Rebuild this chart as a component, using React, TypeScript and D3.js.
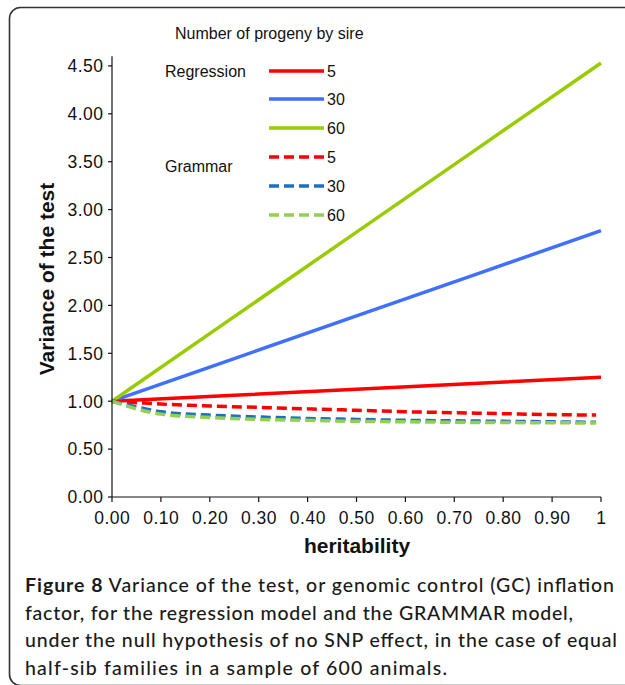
import * as d3 from "d3";

// heritability grid
const hReg = [0, 0.5, 1];
const hGrammar = [0, 0.05, 0.1, 0.2, 0.3, 0.4, 0.5, 0.6, 0.7, 0.8, 0.9, 0.99];

// Regression model, progeny 5 / 30 / 60
const reg5 = [1.0, 1.125, 1.25];
const reg30 = [1.0, 1.89, 2.78];
const reg60 = [1.0, 2.765, 4.53];

// GRAMMAR model, progeny 5 / 30 / 60
const gram5 = [1.0, 0.985, 0.97, 0.95, 0.935, 0.92, 0.905, 0.89, 0.88, 0.87, 0.86, 0.855];
const gram30 = [1.0, 0.94, 0.89, 0.855, 0.835, 0.82, 0.81, 0.8, 0.795, 0.79, 0.785, 0.78];
const gram60 = [1.0, 0.92, 0.865, 0.83, 0.81, 0.8, 0.79, 0.785, 0.78, 0.777, 0.775, 0.772];

const xTicks = [0, 0.1, 0.2, 0.3, 0.4, 0.5, 0.6, 0.7, 0.8, 0.9, 1];
const xTickLabels = ["0.00", "0.10", "0.20", "0.30", "0.40", "0.50", "0.60", "0.70", "0.80", "0.90", "1"];
const yTicks = [0, 0.5, 1, 1.5, 2, 2.5, 3, 3.5, 4, 4.5];

const captionLines = [
  "Variance of the test, or genomic control (GC) inflation",
  "factor, for the regression model and the GRAMMAR model,",
  "under the null hypothesis of no SNP effect, in the case of equal",
  "half-sib families in a sample of 600 animals.",
];

const series = [
  { name: "5", h: hReg, v: reg5, color: "#ff0000", dash: null },
  { name: "30", h: hReg, v: reg30, color: "#4070ff", dash: null },
  { name: "60", h: hReg, v: reg60, color: "#99cc00", dash: null },
  { name: "5", h: hGrammar, v: gram5, color: "#ff0000", dash: "10,5" },
  { name: "30", h: hGrammar, v: gram30, color: "#1f6fc0", dash: "10,5" },
  { name: "60", h: hGrammar, v: gram60, color: "#92d050", dash: "10,5" },
];

const font = "'Liberation Sans', Arial, sans-serif";

export default function App() {
  const width = 625;
  const height = 685;
  const left = 112;
  const right = 601;
  const bottom = 497;

  const x = d3.scaleLinear([0, 1], [left, right]);
  const y = d3.scaleLinear([0, 4.6], [bottom, bottom - 4.6 * 95.8]);

  const pathFor = (s) =>
    d3
      .line<number>()
      .x((_, i) => x(s.h[i]))
      .y((d) => y(d))
      .curve(d3.curveMonotoneX)(s.v);

  const legendY = [71, 99, 128, 157, 186, 215];

  return (
    <svg
      width={width}
      height={height}
      style={{ position: "absolute", left: 0, top: 0, background: "#fff" }}
    >
      <rect x={9.5} y={7.5} width={660} height={678} rx={11} fill="white" stroke="#333" strokeWidth={1.6} />

      {/* legend */}
      <g fontFamily={font} fontSize={16} fill="#111">
        <text x={175} y={39}>Number of progeny by sire</text>
        <text x={165} y={77}>Regression</text>
        <text x={165} y={172}>Grammar</text>
        {series.map((s, i) => (
          <g key={i}>
            <line
              x1={269}
              x2={324}
              y1={legendY[i]}
              y2={legendY[i]}
              stroke={s.color}
              strokeWidth={3.5}
              strokeDasharray={s.dash ?? undefined}
            />
            <text x={327} y={legendY[i] + 6}>{s.name}</text>
          </g>
        ))}
      </g>

      {/* data lines */}
      {series.map((s, i) => (
        <path
          key={i}
          d={pathFor(s)}
          fill="none"
          stroke={s.color}
          strokeWidth={3.5}
          strokeDasharray={s.dash ?? undefined}
        />
      ))}

      {/* axes */}
      <g stroke="#111" strokeWidth={1.2}>
        <line x1={left} x2={left} y1={y(4.6)} y2={bottom} />
        <line x1={left} x2={right} y1={bottom} y2={bottom} />
        {yTicks.map((t) => (
          <line key={t} x1={left - 4} x2={left} y1={y(t)} y2={y(t)} />
        ))}
        {xTicks.map((t) => (
          <line key={t} x1={x(t)} x2={x(t)} y1={bottom} y2={bottom + 5} />
        ))}
      </g>
      <g fontFamily={font} fontSize={17.5} fill="#111" letterSpacing={0.5}>
        {yTicks.map((t) => (
          <text key={t} x={left - 8.5} y={y(t)} dy="0.36em" textAnchor="end">
            {t.toFixed(2)}
          </text>
        ))}
        {xTicks.map((t, i) => (
          <text key={t} x={x(t) + 0.3} y={524} textAnchor="middle">
            {xTickLabels[i]}
          </text>
        ))}
      </g>

      <text
        x={357}
        y={553}
        textAnchor="middle"
        fontFamily={font}
        fontWeight="bold"
        fontSize={21}
        fill="#111"
      >
        heritability
      </text>
      <text
        transform="translate(54,279) rotate(-90)"
        textAnchor="middle"
        fontFamily={font}
        fontWeight="bold"
        fontSize={21}
        fill="#111"
      >
        Variance of the test
      </text>

      {/* caption */}
      <g fontFamily="Lato, 'Open Sans', sans-serif" fontSize={19.5} fontWeight={500} fill="#1a1a1a">
        <text x={25} y={592} textLength={589} lengthAdjust="spacing">
          <tspan fontWeight="bold">Figure 8</tspan> {captionLines[0]}
        </text>
        <text x={25} y={620} textLength={548} lengthAdjust="spacing">{captionLines[1]}</text>
        <text x={25} y={647} textLength={592} lengthAdjust="spacing">{captionLines[2]}</text>
        <text x={25} y={675} textLength={422} lengthAdjust="spacing">{captionLines[3]}</text>
      </g>
    </svg>
  );
}
